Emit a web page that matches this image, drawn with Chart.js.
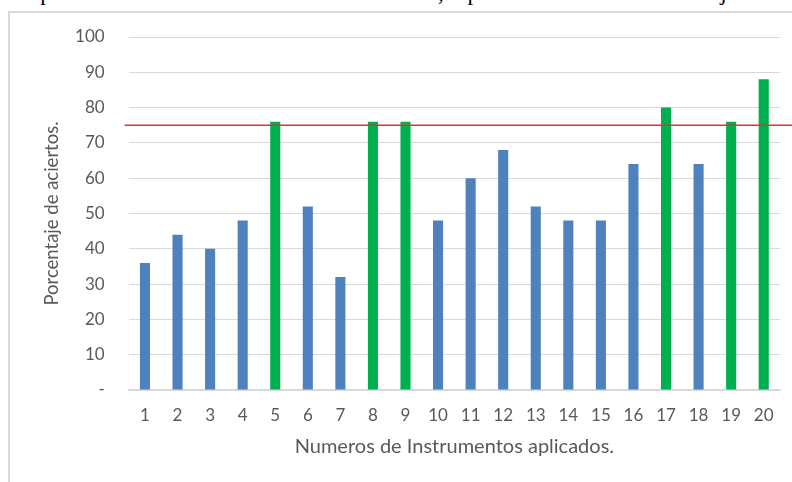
<!DOCTYPE html>
<html>
<head>
<meta charset="utf-8">
<script src="https://cdn.jsdelivr.net/npm/chart.js@4/dist/chart.umd.min.js"></script>
<style>
  html, body { margin: 0; padding: 0; background: #fff; overflow: hidden; }
  #wrap { position: relative; width: 792px; height: 482px; overflow: hidden; }
  #caption { position: absolute; left: 14px; top: -17px; white-space: nowrap; font-family: "Liberation Serif", serif; font-size: 23px; line-height: 20px; color: #000; }
  #frame { position: absolute; left: 8px; top: 11px; width: 800px; height: 500px; border-left: 2px solid #d9d9d9; border-top: 2px solid #d9d9d9; box-sizing: border-box; }
  #c { position: absolute; left: 0; top: 0; }
</style>
</head>
<body>
<div id="wrap">
  <div id="caption">e aplicación en un mínimo de 75% de aciertos, representado con una línea roja.</div>
  <div id="frame"></div>
  <canvas id="c" width="792" height="482"></canvas>
</div>
<script>
const categories = ['1','2','3','4','5','6','7','8','9','10','11','12','13','14','15','16','17','18','19','20'];
const aciertos = [36, 44, 40, 48, 76, 52, 32, 76, 76, 48, 60, 68, 52, 48, 48, 64, 80, 64, 76, 88];
const meta = 75;
const yTicks = [0, 10, 20, 30, 40, 50, 60, 70, 80, 90, 100];

const BLUE = '#4f81bd';
const GREEN = '#00b050';
const barColors = aciertos.map(v => v >= meta ? GREEN : BLUE);

const FONT = 'Lato';
const TXT = '#595959';

const targetLine = {
  id: 'targetLine',
  afterDatasetsDraw(chart) {
    const y = chart.scales.y.getPixelForValue(meta);
    const ctx = chart.ctx;
    ctx.save();
    ctx.strokeStyle = '#e03030';
    ctx.lineWidth = 1.5;
    ctx.beginPath();
    ctx.moveTo(chart.chartArea.left - 4, y);
    ctx.lineTo(chart.width, y);
    ctx.stroke();
    ctx.restore();
  }
};

new Chart(document.getElementById('c'), {
  type: 'bar',
  data: {
    labels: categories,
    datasets: [{
      label: 'Porcentaje de aciertos',
      data: aciertos,
      backgroundColor: barColors,
      borderWidth: 0,
      barPercentage: 0.62,
      categoryPercentage: 0.5
    }]
  },
  options: {
    responsive: false,
    animation: false,
    events: [],
    layout: { padding: { top: 37, right: 12, left: 0, bottom: 0 } },
    plugins: { legend: { display: false }, tooltip: { enabled: false } },
    scales: {
      x: {
        grid: { display: false, drawTicks: false },
        border: { display: true, color: '#d9d9d9', width: 1.5 },
        ticks: { color: TXT, font: { family: FONT, size: 17 }, padding: 15, maxRotation: 0, autoSkip: false },
        title: { display: true, text: 'Numeros de Instrumentos aplicados.', color: TXT, font: { family: FONT, size: 20 }, padding: { top: 0, bottom: 23 } },
        afterFit(s) { s.height = 92; }
      },
      y: {
        min: 0, max: 100,
        afterBuildTicks(s) { s.ticks = yTicks.map(v => ({ value: v })); },
        grid: { color: '#d9d9d9', lineWidth: 1, drawTicks: false },
        border: { display: false },
        ticks: { color: TXT, font: { family: FONT, size: 17 }, padding: 24, callback: v => v === 0 ? '-' : String(v) },
        title: { display: true, text: 'Porcentaje de aciertos.', color: TXT, font: { family: FONT, size: 18.5 }, padding: { top: 41, bottom: 0 } },
        afterFit(s) { s.width = 128.7; }
      }
    }
  },
  plugins: [targetLine]
});
</script>
</body>
</html>
